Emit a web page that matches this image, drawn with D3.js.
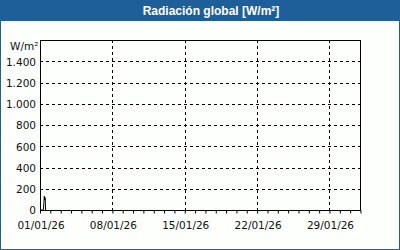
<!DOCTYPE html>
<html><head><meta charset="utf-8">
<script src="https://cdn.jsdelivr.net/npm/d3@7"></script>
<style>html,body{margin:0;padding:0;background:#fff;}svg{display:block;}</style>
</head><body>
<svg id="c" width="400" height="250"></svg>
<script>
const title = "Radiación global [W/m²]";
const unitLabel = "W/m²";
const yTicks = [0, 200, 400, 600, 800, 1000, 1200, 1400];
const xTickDates = ["2026-01-01", "2026-01-08", "2026-01-15", "2026-01-22", "2026-01-29"];
// hourly readings on 01/01/26
const times = ["2026-01-01T00:00","2026-01-01T06:00","2026-01-01T07:00","2026-01-01T08:00","2026-01-01T09:00","2026-01-01T10:00","2026-01-01T11:00","2026-01-01T12:00","2026-01-01T13:00","2026-01-01T14:00"];
const values = [0, 0, 0, 10, 70, 130, 95, 115, 0, 0];

const svg = d3.select("#c");
const W = 400, H = 250;
const fmtTick = d3.timeFormat("%d/%m/%y");
const fmtNum = v => d3.format(",")(v).replace(/,/g, ".");
const parse = d3.isoParse;

svg.append("rect").attr("x",0).attr("y",0).attr("width",W).attr("height",H).attr("fill","#fcfffc");
svg.append("rect").attr("x",0.5).attr("y",0.5).attr("width",W-1).attr("height",H-1).attr("fill","none").attr("stroke","#1f5f99");
svg.append("rect").attr("x",0).attr("y",0).attr("width",W).attr("height",21).attr("fill","#1f5f99");
svg.append("text").attr("x",211).attr("y",15).attr("text-anchor","middle")
  .attr("font-family","'Liberation Sans', Arial, sans-serif").attr("font-weight","bold").attr("font-size",12)
  .attr("fill","#fff").text(title);

const x = d3.scaleTime().domain([parse("2026-01-01"), parse("2026-02-01")]).range([40, 360.5]);
const y = d3.scaleLinear().domain([0, 1600]).range([210, 40]);

const font = "'DejaVu Sans', sans-serif";
const g = svg.append("g");

// grid
g.selectAll("line.hg").data(yTicks.filter(v=>v>0)).join("line")
  .attr("x1",40).attr("x2",360.5).attr("y1",d=>Math.round(y(d))+0.5).attr("y2",d=>Math.round(y(d))+0.5)
  .attr("stroke","#000").attr("stroke-dasharray","3,3");
g.selectAll("line.vg").data(xTickDates.slice(1)).join("line")
  .attr("x1",d=>Math.round(x(parse(d)))+0.5).attr("x2",d=>Math.round(x(parse(d)))+0.5).attr("y1",40).attr("y2",210)
  .attr("stroke","#000").attr("stroke-dasharray","3,3");

// x axis with daily ticks
const xAxis = d3.axisBottom(x).ticks(d3.timeDay.every(1)).tickSize(3).tickFormat("");
const xa = svg.append("g").attr("transform","translate(0,210.5)").call(xAxis);
xa.select(".domain").remove();
xa.selectAll(".tick line").attr("stroke","#000");
// x labels
svg.selectAll("text.xl").data(xTickDates).join("text")
  .attr("x",d=>x(parse(d))+1).attr("y",229).attr("text-anchor","middle")
  .attr("font-family",font).attr("font-size",10.5).attr("fill","#111").text(d=>fmtTick(parse(d)));

// y labels
const yAxis = d3.axisLeft(y).tickValues(yTicks).tickSize(0).tickPadding(4).tickFormat(fmtNum);
const ya = svg.append("g").attr("transform","translate(40,0)").call(yAxis);
ya.select(".domain").remove();
ya.selectAll("text").attr("font-family",font).attr("font-size",10.5).attr("fill","#111").attr("dy","0.36em");
svg.append("text").attr("x",10).attr("y",50).attr("font-family",font).attr("font-size",10.5).attr("fill","#111").text(unitLabel);

// frame
svg.append("rect").attr("x",40.5).attr("y",40.5).attr("width",320).attr("height",170).attr("fill","none").attr("stroke","#000");

// data line
const line = d3.line().x((d,i)=>x(parse(times[i]))).y(d=>y(d));
svg.append("path").datum(values).attr("d",line).attr("fill","none").attr("stroke","#000").attr("stroke-width",1);
</script>
</body></html>
